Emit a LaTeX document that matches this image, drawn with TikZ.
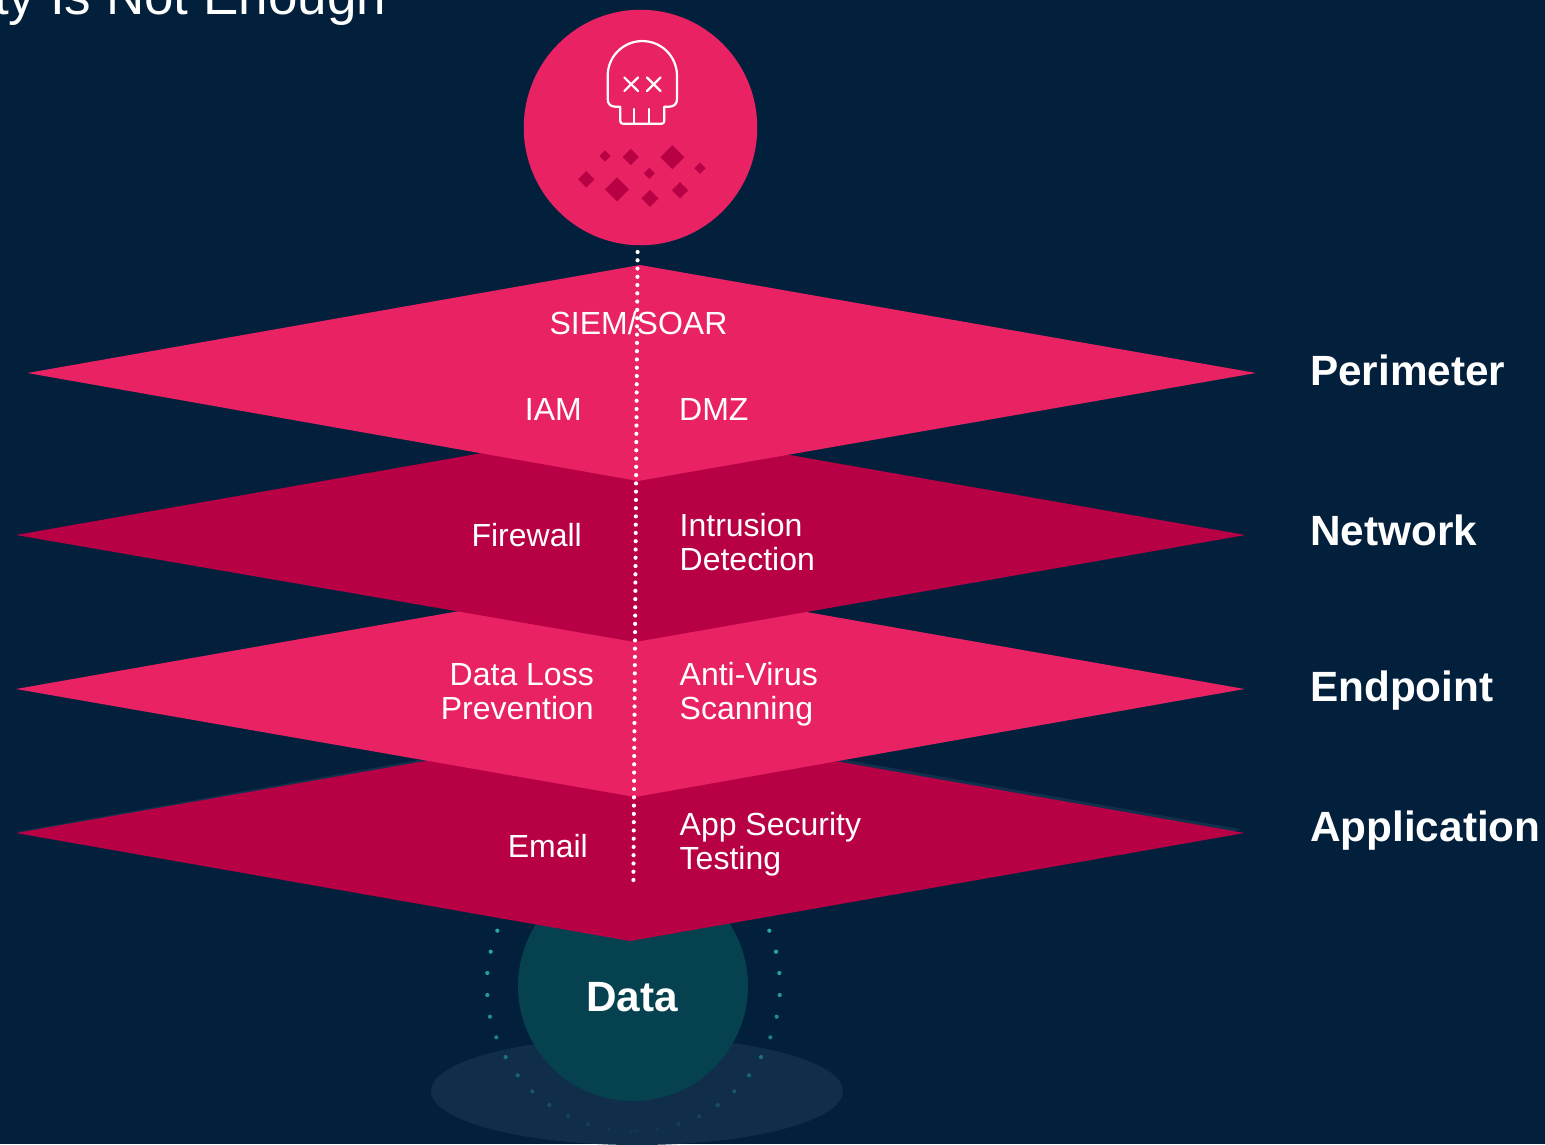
\documentclass[tikz,border=0pt]{standalone}
\usepackage{fontspec}
\usetikzlibrary{shapes.geometric}
\setmainfont{Liberation Sans}
\definecolor{bgc}{HTML}{02203C}
\definecolor{pinkc}{HTML}{E92363}
\definecolor{darkc}{HTML}{B80045}
\definecolor{tealc}{HTML}{06414F}
\definecolor{ellc}{HTML}{102D4A}
\definecolor{shadec}{HTML}{12304C}
\definecolor{dotc}{HTML}{2AA5A8}
\tikzset{
  layerpink/.style={fill=pinkc},
  layerdark/.style={fill=darkc},
  lbl/.style={text=white,inner sep=0pt,font=\fontsize{32}{34.5}\selectfont},
  lblw/.style={lbl,anchor=base west,align=left},
  lble/.style={lbl,anchor=base east,align=right},
  headl/.style={text=white,inner sep=0pt,anchor=base west,font=\fontsize{42.3}{46}\selectfont\bfseries},
  skull/.style={draw=white,line width=2.2pt,line join=round,line cap=round},
  gem/.style={fill=darkc}
}
\newcommand{\gemat}[3]{\fill[gem] (#1+#3,#2) -- (#1,#2+#3) -- (#1-#3,#2) -- (#1,#2-#3) -- cycle;}
\begin{document}
\begin{tikzpicture}[x=1pt,y=-1pt]
\useasboundingbox (0,0) rectangle (1545,1144);
\clip (0,0) rectangle (1545,1144);
\fill[bgc] (0,0) rectangle (1545,1144);
% title fragment
\node[text=white,inner sep=0pt,anchor=base west,font=\fontsize{53}{60}\selectfont] (title) at (-6,14) {ty Is Not Enough};
% ground ellipse and data sphere
\fill[ellc] (637,1091) ellipse [x radius=206,y radius=54];
\node[circle,fill=tealc,minimum size=230pt,inner sep=0pt] (datac) at (633,986) {};
% dots around data
\foreach \ax/\ay/\bx/\op in {232/92/1048/1,212/155/1068/1,202/219/1078/.95,202/285/1079/.9,210/350/1070/.8,229/412/1051/.7,257/471/1023/.55,293/526/987/.45,337/574/943/.35,388/615/893/.28,444/649/837/.2,504/673/776/.15,567/687/712/.1,632/693/647/.07}{
  \fill[dotc,opacity=\op] ({420+\ax/3},{900+\ay/3}) circle (2.1);
  \fill[dotc,opacity=\op] ({420+\bx/3},{900+\ay/3}) circle (2.1);
}
% layers bottom to top
\fill[shadec] (16,832) -- (630,722) -- (1242,829.5) -- (630,939) -- cycle;
\fill[layerdark] (16,833) -- (630,725) -- (1244.5,833) -- (630,941) -- cycle;
\fill[layerpink] (16,689) -- (630,581) -- (1244.5,689) -- (635,797) -- cycle;
\fill[layerdark] (16,535) -- (630,427) -- (1245.5,535) -- (635,642) -- cycle;
\fill[layerpink] (27.5,373) -- (640,265) -- (1256,373) -- (638,481) -- cycle;
% attacker sphere
\node[ellipse,fill=pinkc,minimum width=233.5pt,minimum height=235.5pt,inner sep=0pt] (attack) at (640.5,127.5) {};
% skull
\draw[skull] (607.7,75.7) arc (180:360:34.65) -- (677,99) .. controls (677,104) and (674,106.7) .. (669,106.7) -- (664.3,106.7) -- (664.3,121) .. controls (664.3,123) and (663,123.7) .. (661.5,123.7) -- (623,123.7) .. controls (621.3,123.7) and (620.3,123) .. (620.3,121) -- (620.3,106.7) -- (615.5,106.7) .. controls (610.5,106.7) and (607.7,104) .. (607.7,99) -- cycle;
\draw[skull] (634,109) -- (634,123.7) (649,109) -- (649,123.7);
\draw[skull] (624.3,77.5) -- (638,91) (638,77.5) -- (624.3,91);
\draw[skull] (647,77.5) -- (660.5,91) (660.5,77.5) -- (647,91);
% debris
\gemat{605}{156}{5.6}
\gemat{630.7}{157}{8.2}
\gemat{672.3}{157.3}{12}
\gemat{700}{168.3}{5.6}
\gemat{649.3}{173.3}{5.6}
\gemat{586.3}{179.3}{8.2}
\gemat{617}{189.3}{12}
\gemat{650}{198.3}{8.5}
\gemat{680}{190.3}{8.2}
% labels
\node[lbl,anchor=base] (siem) at (638.5,334) {SIEM/SOAR};
\node[lble] (iam) at (582,420) {IAM};
\node[lblw] (dmz) at (679,420) {DMZ};
\node[lble] (fw) at (582,546) {Firewall};
\node[lblw] (ids1) at (679.5,536) {Intrusion};
\node[lblw] (ids2) at (679.5,570) {Detection};
\node[lble] (dlp1) at (594,685) {Data Loss};
\node[lble] (dlp2) at (594,719) {Prevention};
\node[lblw] (av1) at (679.5,685) {Anti-Virus};
\node[lblw] (av2) at (679.5,719) {Scanning};
\node[lble] (email) at (588,857) {Email};
\node[lblw] (app1) at (679.5,835) {App Security};
\node[lblw] (app2) at (679.5,869) {Testing};
\node[headl] (h1) at (1310,385) {Perimeter};
\node[headl] (h2) at (1310,545) {Network};
\node[headl] (h3) at (1310,701) {Endpoint};
\node[headl] (h4) at (1310,841) {Application};
\node[headl,anchor=base] (dtxt) at (632,1011) {Data};
% attack path
\coordinate (pathtop) at (637.6,252);
\coordinate (pathend) at (633.4,880.5);
\draw[white,line width=4.2pt,line cap=round,dash pattern=on 0pt off 8.263pt] (pathtop) -- (pathend);
\end{tikzpicture}
\end{document}
